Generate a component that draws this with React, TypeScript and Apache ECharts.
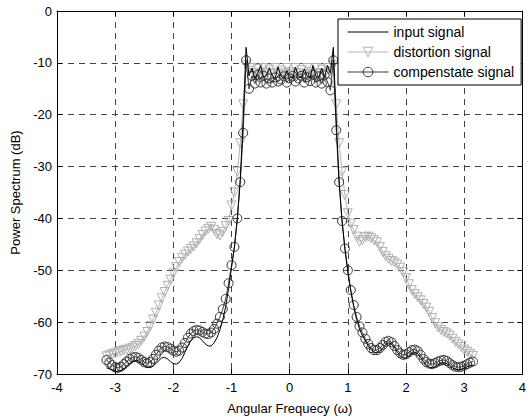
import React, { useEffect, useRef } from "react";
import * as echarts from "echarts";

// Angular frequency sampling (rad), from -3.15 to 3.15 in steps of 0.05
const freqStart = -3.15;
const freqStep = 0.05;

const inputSignal = [
  -68.8, -69.0, -69.3, -69.5, -69.5, -69.3, -69.0, -68.5, -68.0, -67.6,
  -67.4, -67.5, -67.9, -68.3, -68.7, -68.8, -68.5, -68.0, -67.4, -66.9,
  -66.8, -67.1, -67.6, -68.0, -68.1, -67.8, -67.0, -65.8, -64.6, -63.6,
  -63.0, -62.8, -63.0, -63.6, -64.2, -64.6, -64.6, -64.0, -63.0, -61.5,
  -59.5, -57.0, -53.5, -49.5, -45.5, -40.0, -32.5, -21.0, -7.0, -12.5,
  -11.0, -13.0, -12.0, -10.5, -12.8, -12.3, -11.0, -12.5, -13.0, -10.8,
  -12.6, -13.0, -11.5, -12.5, -13.0, -10.8, -12.6, -12.9, -11.2, -12.5,
  -13.0, -10.5, -12.6, -12.8, -11.0, -12.8, -10.5, -12.0, -7.0, -21.0,
  -33.0, -40.5, -46.0, -50.5, -54.0, -57.0, -59.5, -61.3, -62.6, -63.6,
  -64.6, -65.3, -65.8, -65.9, -65.6, -65.0, -64.3, -64.0, -64.2, -64.9,
  -65.8, -66.5, -66.9, -66.9, -66.5, -66.0, -65.8, -66.1, -66.8, -67.6,
  -68.3, -68.7, -68.8, -68.6, -68.2, -67.9, -67.8, -68.0, -68.4, -68.8,
  -69.1, -69.2, -69.1, -68.9, -68.6, -68.4, -68.3,
];

const distortionSignal = [
  -66.6, -66.4, -66.2, -66.0, -65.8, -65.6, -65.4, -65.3, -65.1, -64.9,
  -64.6, -64.2, -63.6, -62.8, -61.9, -60.8, -59.5, -58.2, -56.8, -55.4,
  -54.2, -53.0, -51.8, -50.6, -49.4, -48.4, -47.6, -47.0, -46.4, -45.9,
  -45.4, -44.8, -44.0, -43.2, -42.5, -42.0, -41.6, -42.2, -43.0, -43.3,
  -42.6, -41.5, -40.5, -37.5, -35.0, -31.0, -25.5, -18.0, -10.5, -11.5,
  -11.0, -12.0, -11.2, -12.2, -11.0, -11.8, -11.3, -12.2, -11.0, -12.0,
  -11.5, -12.3, -11.0, -11.8, -12.2, -11.0, -12.0, -11.4, -12.3, -11.0,
  -11.8, -12.2, -11.0, -12.0, -11.3, -12.2, -11.0, -11.6, -10.5, -18.0,
  -25.5, -31.0, -35.5, -39.0, -41.0, -42.2, -43.5, -44.5, -44.2, -43.6,
  -43.5, -43.8, -44.2, -44.6, -45.5, -46.5, -47.3, -47.8, -48.2, -48.5,
  -48.9, -49.5, -50.4, -51.5, -52.7, -53.8, -54.6, -55.2, -55.8, -56.5,
  -57.2, -58.0, -59.2, -60.2, -61.0, -61.5, -61.9, -62.2, -62.6, -63.2,
  -63.8, -64.3, -64.8, -65.3, -65.7, -66.1, -66.5,
];

const compensateSignal = [
  -67.3, -67.8, -68.3, -68.7, -68.8, -68.6, -68.1, -67.6, -67.1, -66.8,
  -66.7, -66.9, -67.3, -67.7, -67.9, -67.7, -67.1, -66.3, -65.5, -64.9,
  -64.7, -64.8, -65.1, -65.5, -65.7, -65.5, -64.9, -64.0, -63.0, -62.2,
  -61.7, -61.5, -61.6, -61.9, -62.2, -62.3, -62.0, -61.3, -60.3, -59.0,
  -57.5, -55.5, -52.5, -49.0, -45.5, -40.0, -33.0, -23.5, -9.5, -15.0,
  -12.5, -14.0, -12.3, -13.8, -12.5, -14.0, -13.0, -13.8, -12.8, -13.6,
  -13.2, -12.6, -13.8, -13.0, -12.5, -13.6, -13.0, -12.5, -13.8, -12.8,
  -13.5, -12.3, -13.8, -12.6, -14.0, -12.4, -13.7, -15.3, -9.5, -23.0,
  -33.0, -40.5, -45.8, -50.0, -53.8, -56.7, -59.0, -60.8, -62.0, -63.2,
  -64.2, -65.0, -65.4, -65.4, -65.0, -64.4, -63.8, -63.6, -63.9, -64.6,
  -65.4, -66.0, -66.3, -66.2, -65.8, -65.4, -65.3, -65.6, -66.3, -67.1,
  -67.7, -68.0, -68.1, -67.9, -67.6, -67.4, -67.3, -67.5, -67.9, -68.3,
  -68.6, -68.7, -68.6, -68.4, -68.1, -67.8, -67.6,
];

const seriesNames = ["input signal", "distortion signal", "compenstate signal"];
const xAxisTitle = "Angular Frequecy (ω)";
const yAxisTitle = "Power Spectrum (dB)";

const freq = inputSignal.map((_, i) => +(freqStart + i * freqStep).toFixed(2));
const pairs = (vals: number[]) => vals.map((v, i) => [freq[i], v]);

const FONT = "'Liberation Sans', Arial, sans-serif";

export default function App() {
  const ref = useRef<HTMLDivElement>(null);
  useEffect(() => {
    if (!ref.current) return;
    const chart = echarts.init(ref.current, null, { renderer: "svg" });
    const gridLine = { show: true, lineStyle: { color: "#444", type: [6, 5], width: 1 } };
    const axisLine = { show: true, onZero: false, lineStyle: { color: "#000", width: 1 } };
    const tick = { show: true, inside: true, length: 5, lineStyle: { color: "#000", width: 1 } };
    chart.setOption({
      animation: false,
      backgroundColor: "#fff",
      textStyle: { fontFamily: FONT },
      grid: { left: 57, right: 5, top: 11, bottom: 43, containLabel: false },
      legend: {
        orient: "vertical",
        left: 338,
        top: 19,
        backgroundColor: "#fff",
        borderColor: "#000",
        borderWidth: 1,
        borderRadius: 0,
        padding: [6, 7, 6, 9],
        itemGap: 6,
        itemWidth: 41,
        itemHeight: 12,
        lineStyle: { width: 1 },
        itemStyle: { borderWidth: 1 },
        textStyle: { fontSize: 14, color: "#000", fontFamily: FONT },
        data: [
          {
            name: seriesNames[0],
            itemStyle: { color: "rgba(0,0,0,0)", borderWidth: 0, opacity: 0 },
          },
          { name: seriesNames[1] },
          { name: seriesNames[2] },
        ],
      },
      xAxis: [
        {
          type: "value",
          min: -4,
          max: 4,
          interval: 1,
          position: "bottom",
          axisLine,
          axisTick: tick,
          axisLabel: { color: "#000", fontSize: 13, margin: 7, fontFamily: FONT },
          splitLine: gridLine,
          name: xAxisTitle,
          nameLocation: "middle",
          nameGap: 28,
          nameTextStyle: { color: "#000", fontSize: 13, fontFamily: FONT },
        },
        {
          type: "value",
          min: -4,
          max: 4,
          interval: 1,
          position: "top",
          axisLine,
          axisTick: tick,
          axisLabel: { show: false },
          splitLine: { show: false },
        },
      ],
      yAxis: [
        {
          type: "value",
          min: -70,
          max: 0,
          interval: 10,
          position: "left",
          axisLine,
          axisTick: tick,
          axisLabel: { color: "#000", fontSize: 13, margin: 5, fontFamily: FONT },
          splitLine: gridLine,
          name: yAxisTitle,
          nameLocation: "middle",
          nameGap: 25,
          nameTextStyle: { color: "#000", fontSize: 13, fontFamily: FONT },
        },
        {
          type: "value",
          min: -70,
          max: 0,
          interval: 10,
          position: "right",
          axisLine,
          axisTick: tick,
          axisLabel: { show: false },
          splitLine: { show: false },
        },
      ],
      series: [
        {
          name: seriesNames[1],
          type: "line",
          data: pairs(distortionSignal),
          symbol: "triangle",
          symbolRotate: 180,
          symbolSize: 9,
          lineStyle: { color: "#b4b4b4", width: 1 },
          itemStyle: { color: "rgba(255,255,255,0)", borderColor: "#b0b0b0", borderWidth: 1 },
          emphasis: { disabled: true },
          silent: true,
          z: 2,
        },
        {
          name: seriesNames[2],
          type: "line",
          data: pairs(compensateSignal),
          symbol: "circle",
          symbolSize: 9,
          lineStyle: { color: "#3a3a3a", width: 1 },
          itemStyle: { color: "rgba(255,255,255,0)", borderColor: "#333", borderWidth: 1 },
          emphasis: { disabled: true },
          silent: true,
          z: 3,
        },
        {
          name: seriesNames[0],
          type: "line",
          data: pairs(inputSignal),
          symbol: "none",
          lineStyle: { color: "#000", width: 1 },
          itemStyle: { color: "#000" },
          emphasis: { disabled: true },
          silent: true,
          z: 4,
        },
      ],
    });
    return () => chart.dispose();
  }, []);
  return (
    <div
      ref={ref}
      style={{ position: "fixed", left: 0, top: 0, width: 529, height: 420, background: "#fff" }}
    />
  );
}
